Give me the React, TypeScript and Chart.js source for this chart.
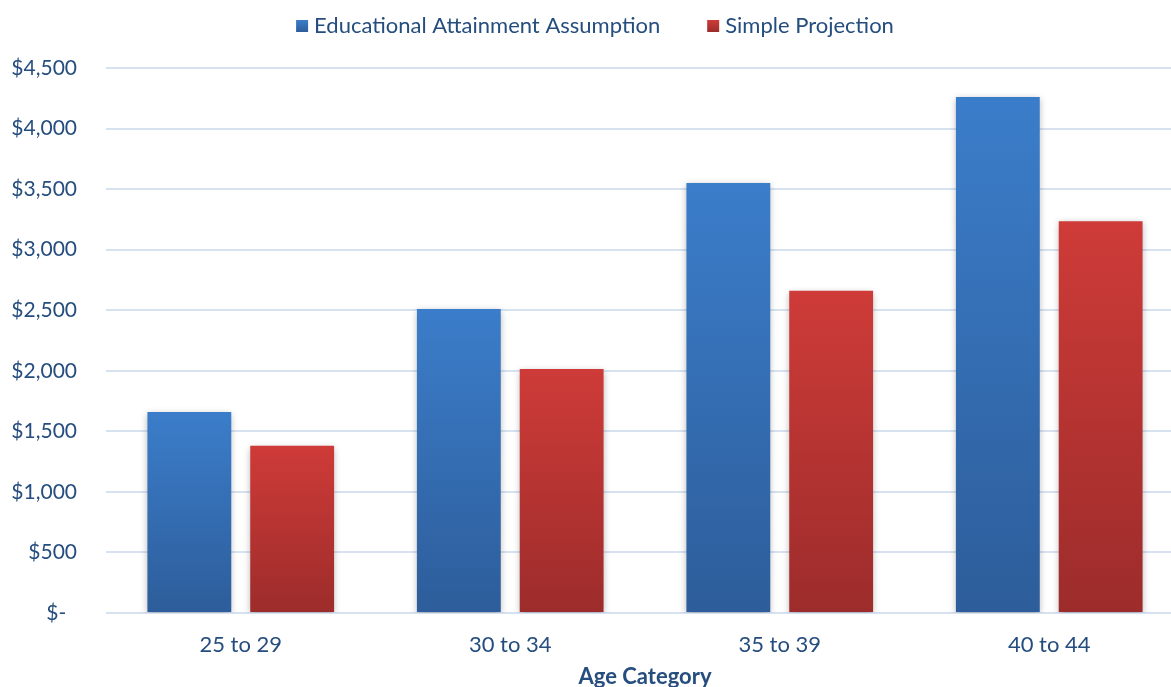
import React, { useEffect, useRef } from 'react';
import { Chart, registerables } from 'chart.js';

Chart.register(...registerables);

const categories = ['25 to 29', '30 to 34', '35 to 39', '40 to 44'];
const seriesNames = ['Educational Attainment Assumption', 'Simple Projection'];
const educationalAttainment = [1660, 2510, 3550, 4260];
const simpleProjection = [1380, 2015, 2660, 3235];
const yMin = 0;
const yMax = 4500;
const yStep = 500;
const xAxisTitle = 'Age Category';

const TEXT = '#254D7E';
const FONT = 'Lato';
const BLUE = ['#3B7DCA', '#2D5D9A'];
const RED = ['#CE3B38', '#9C2C2B'];
const GRID = '#D7E2F1';

const CANVAS_W = 1190;
const CANVAS_H = 687;

function formatDollar(v: number): string {
  if (v === 0) return '$-  ';
  return '$' + v.toLocaleString('en-US');
}

function barGradient(colors: string[]) {
  return (ctx: any) => {
    const chart = ctx.chart;
    const y = chart.scales && chart.scales.y;
    if (!chart.chartArea || !y || ctx.type !== 'data') return colors[0];
    const top = y.getPixelForValue(ctx.raw);
    const bottom = y.getPixelForValue(0);
    if (!isFinite(top) || !isFinite(bottom) || top === bottom) return colors[0];
    const g = chart.ctx.createLinearGradient(0, top, 0, bottom);
    g.addColorStop(0, colors[0]);
    g.addColorStop(1, colors[1]);
    return g;
  };
}

const shadowPlugin = {
  id: 'barShadow',
  beforeDatasetsDraw(chart: any) {
    const c = chart.ctx;
    c.save();
    c.shadowColor = 'rgba(0,0,0,0.3)';
    c.shadowBlur = 7;
    c.shadowOffsetX = 0;
    c.shadowOffsetY = 2;
  },
  afterDatasetsDraw(chart: any) {
    chart.ctx.restore();
  },
};

const legendPlugin = {
  id: 'topLegend',
  afterDraw(chart: any) {
    const c = chart.ctx;
    c.save();
    c.font = `22px ${FONT}`;
    c.textBaseline = 'middle';
    c.textAlign = 'left';
    const items = [
      { text: seriesNames[0], colors: BLUE },
      { text: seriesNames[1], colors: RED },
    ];
    const box = 12;
    const gapBox = 6;
    const gapItem = 47;
    const widths = items.map((it) => box + gapBox + c.measureText(it.text).width);
    const total = widths.reduce((a, b) => a + b, 0) + gapItem;
    let x = chart.width / 2 - total / 2;
    const cy = 26;
    items.forEach((it, i) => {
      const g = c.createLinearGradient(0, cy - box / 2, 0, cy + box / 2);
      g.addColorStop(0, it.colors[0]);
      g.addColorStop(1, it.colors[1]);
      c.fillStyle = g;
      c.fillRect(x, cy - box / 2, box, box);
      c.fillStyle = TEXT;
      c.fillText(it.text, x + box + gapBox, cy);
      x += widths[i] + gapItem;
    });
    c.restore();
  },
};

export default function App() {
  const canvasRef = useRef<HTMLCanvasElement | null>(null);

  useEffect(() => {
    if (!canvasRef.current) return;
    const chart = new Chart(canvasRef.current, {
      type: 'bar',
      data: {
        labels: categories,
        datasets: [
          {
            label: seriesNames[0],
            data: educationalAttainment,
            backgroundColor: barGradient(BLUE),
            borderWidth: 0,
          },
          {
            label: seriesNames[1],
            data: simpleProjection,
            backgroundColor: barGradient(RED),
            borderWidth: 0,
          },
        ],
      },
      options: {
        responsive: false,
        animation: false,
        devicePixelRatio: 1,
        layout: { padding: { top: 68, right: 6, left: 0, bottom: 0 } },
        datasets: {
          bar: { categoryPercentage: 0.763, barPercentage: 0.8155 },
        },
        plugins: {
          legend: { display: false },
          tooltip: { enabled: false },
        },
        scales: {
          x: {
            grid: { display: false, drawTicks: false },
            border: { display: false },
            ticks: {
              color: TEXT,
              font: { family: FONT, size: 22 },
              padding: 19,
              maxRotation: 0,
            },
            title: {
              display: true,
              text: xAxisTitle,
              color: TEXT,
              font: { family: FONT, size: 22, weight: 'bold', lineHeight: 0.95 },
              padding: { top: 0, bottom: 0 },
            },
            afterFit: (s: any) => {
              s.height = CANVAS_H - 613;
            },
          },
          y: {
            min: yMin,
            max: yMax,
            grid: { color: GRID, lineWidth: 2, drawTicks: false },
            border: { display: false },
            ticks: {
              stepSize: yStep,
              color: TEXT,
              font: { family: FONT, size: 21 },
              padding: 29,
              callback: (v: any) => formatDollar(Number(v)),
            },
            afterFit: (s: any) => {
              s.width = 106;
            },
          },
        },
      },
      plugins: [shadowPlugin, legendPlugin],
    });
    return () => chart.destroy();
  }, []);

  return (
    <div
      style={{
        position: 'absolute',
        left: 0,
        top: 0,
        width: 1171,
        height: 687,
        overflow: 'hidden',
        background: '#ffffff',
      }}
    >
      <canvas
        ref={canvasRef}
        width={CANVAS_W}
        height={CANVAS_H}
        style={{ display: 'block', width: CANVAS_W, height: CANVAS_H }}
      />
    </div>
  );
}
